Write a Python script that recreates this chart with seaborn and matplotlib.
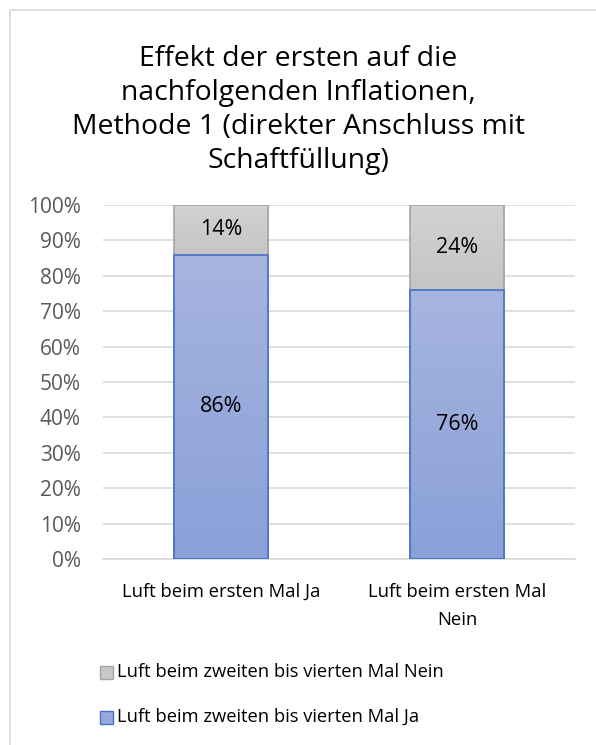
import matplotlib
matplotlib.use("Agg")
import matplotlib.pyplot as plt
import seaborn as sns
import numpy as np
import pandas as pd
from matplotlib.patches import Rectangle
from matplotlib.ticker import FuncFormatter

categories = ["Luft beim ersten Mal Ja", "Luft beim ersten Mal\nNein"]
ja_values = [86, 76]
nein_values = [14, 24]
series_names = ["Luft beim zweiten bis vierten Mal Nein", "Luft beim zweiten bis vierten Mal Ja"]
title = "Effekt der ersten auf die\nnachfolgenden Inflationen,\nMethode 1 (direkter Anschluss mit\nSchaftfüllung)"

sns.set_theme(style="white")
plt.rcParams['font.family'] = ['Open Sans', 'DejaVu Sans']

W, H = 596, 745
fig = plt.figure(figsize=(W/100, H/100), dpi=100)
left, right, top, bottom = 103, 575, 205, 559
ax = fig.add_axes([left/W, 1-bottom/H, (right-left)/W, (bottom-top)/H])

df = pd.DataFrame({"cat": categories,
                   "total": [a+b for a, b in zip(ja_values, nein_values)],
                   "ja": ja_values, "nein": nein_values})

sns.barplot(data=df, x="cat", y="total", color="#CDCDCD", width=0.40,
            edgecolor="#A5A5A5", linewidth=1.2, saturation=1, ax=ax, zorder=2)
sns.barplot(data=df, x="cat", y="ja", color="#98AADB", width=0.40,
            edgecolor="#4472C4", linewidth=1.2, saturation=1, ax=ax, zorder=3)

patches = list(ax.patches)
n = len(categories)
gray_p = patches[:n]
blue_p = patches[n:]

def grad(p, ctop, cbot, lower):
    x0 = p.get_x(); w = p.get_width()
    y1 = p.get_y() + p.get_height()
    y0 = lower
    c1 = np.array(matplotlib.colors.to_rgb(ctop))
    c0 = np.array(matplotlib.colors.to_rgb(cbot))
    t = np.linspace(0, 1, 100)[:, None]
    img = (c1 * t + c0 * (1 - t))[:, None, :]
    im = ax.imshow(img, extent=[x0, x0+w, y0, y1], origin="lower",
                   aspect="auto", zorder=p.get_zorder() + 0.05)
    clip = Rectangle((x0, y0), w, y1-y0, transform=ax.transData)
    im.set_clip_path(clip)
    p.set_facecolor("none")

for p, j in zip(gray_p, ja_values):
    grad(p, "#D2D2D2", "#C5C5C5", j)
for p in blue_p:
    grad(p, "#A7B5DF", "#89A0D8", 0)
for p in patches:
    p.set_zorder(p.get_zorder() + 1)

for i, (j, nv) in enumerate(zip(ja_values, nein_values)):
    ax.text(i, j/2, f"{j}%", ha="center", va="center", fontsize=15.5, color="#000000", zorder=10)
    ax.text(i, j + nv/2, f"{nv}%", ha="center", va="center", fontsize=15.5, color="#000000", zorder=10)

ax.set_ylim(0, 100)
ax.set_xlim(-0.5, 1.5)
ax.set_yticks(range(0, 101, 10))
ax.yaxis.set_major_formatter(FuncFormatter(lambda v, _: f"{int(v)}%"))
ax.grid(axis="y", color="#D9D9D9", linewidth=1.2, zorder=0)
ax.set_axisbelow(True)
for s in ["top", "right", "left"]:
    ax.spines[s].set_visible(False)
ax.spines["bottom"].set_color("#D9D9D9")
ax.spines["bottom"].set_linewidth(1.2)
ax.tick_params(axis="y", length=0, labelsize=15, labelcolor="#595959", pad=16)
ax.tick_params(axis="x", length=0, labelsize=13.3, labelcolor="#000000", pad=17)
ax.set_xlabel(""); ax.set_ylabel("")
ax.set_xticks(range(n))
ax.set_xticklabels(categories, linespacing=1.75)

fig.text(298/W, 1-45/H, title, ha="center", va="top", fontsize=20.4,
         color="#000000", linespacing=1.29)

# legend
leg_y = [672, 717]
colors_leg = [("#C8C8C8", "#A5A5A5"), ("#98AADB", "#4472C4")]
for (fc, ec), name, y in zip(colors_leg, series_names, leg_y):
    fig.patches.append(Rectangle((100/W, 1-(y+7)/H), 13/W, 13/H, transform=fig.transFigure,
                                 facecolor=fc, edgecolor=ec, linewidth=1))
    fig.text(117/W, 1-y/H, name, ha="left", va="center", fontsize=13.2, color="#000000")

fig.patches.append(Rectangle((10/W, -0.1), 1.2, 1-10/H+0.1, transform=fig.transFigure,
                             facecolor="none", edgecolor="#D9D9D9", linewidth=1.2))

fig.savefig("out.png", dpi=100)
